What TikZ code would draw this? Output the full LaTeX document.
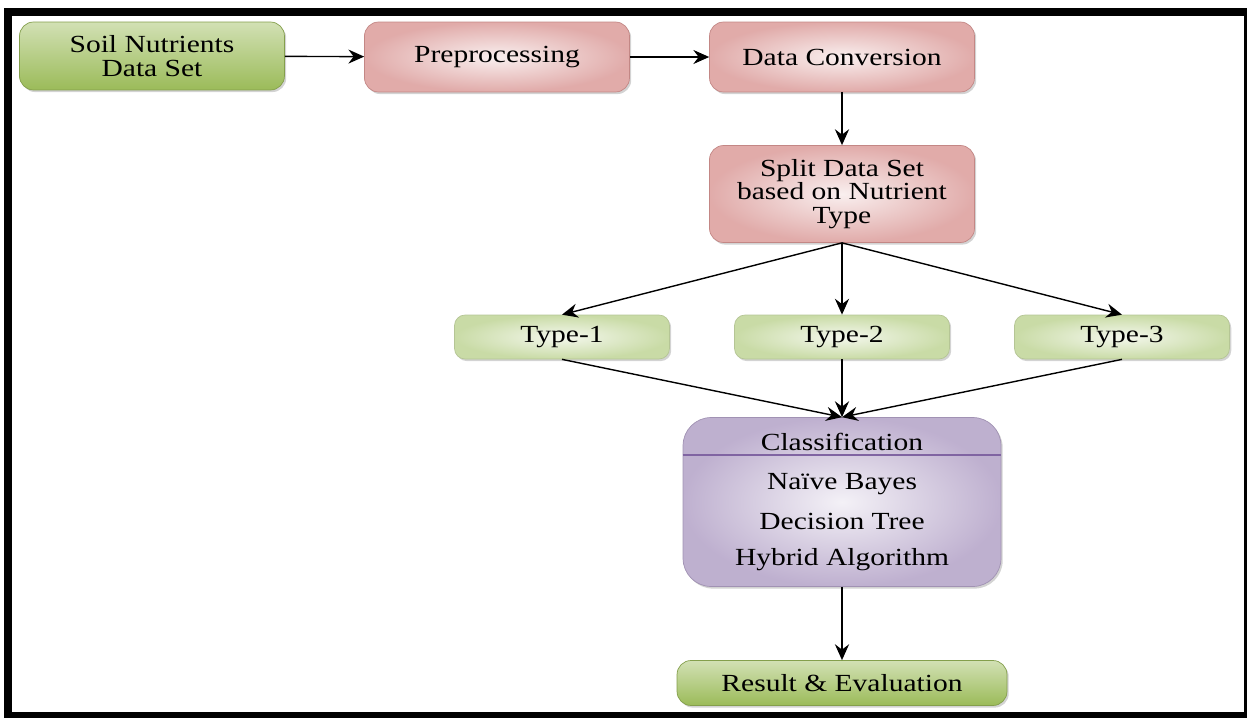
\documentclass[tikz,border=0pt]{standalone}
\usepackage{fontspec}
\setmainfont[FakeStretch=1.2]{Liberation Serif}
\usetikzlibrary{arrows.meta,shadows}

\definecolor{soilgreen}{HTML}{9BBB59}
\definecolor{stagepink}{HTML}{D99694}
\definecolor{typegreen}{HTML}{C9DBA6}
\definecolor{classpurple}{HTML}{B3A2C7}
\definecolor{classline}{HTML}{8064A2}

\tikzset{
  box/.style={rounded corners=8pt, align=center, inner sep=0pt,
    font=\fontsize{14}{13.5}\selectfont,
    drop shadow={shadow xshift=1pt, shadow yshift=-1.2pt, opacity=0.35}},
  greenbox/.style={box, draw=soilgreen!85!black, top color=soilgreen!45!white,
    bottom color=soilgreen, minimum width=5.3cm, minimum height=1.36cm},
  pinkbox/.style={box, draw=stagepink!90!black, inner color=stagepink!15!white,
    outer color=stagepink!80, minimum width=5.3cm, minimum height=1.4cm},
  typebox/.style={box, rounded corners=6pt, draw=typegreen!90!black,
    inner color=typegreen!20!white, outer color=typegreen,
    minimum width=4.3cm, minimum height=0.88cm},
  classbox/.style={box, rounded corners=16pt, draw=classpurple!90!black,
    inner color=classpurple!15!white, outer color=classpurple!85,
    minimum width=6.36cm, minimum height=3.38cm},
  item/.style={font=\fontsize{14}{13.5}\selectfont, inner sep=1pt},
  flow/.style={-{Stealth[length=9pt,width=8pt,inset=3pt]}, line width=0.8pt},
  flowthick/.style={flow, line width=1.3pt}
}

\begin{document}
\begin{tikzpicture}[x=0.02cm, y=-0.02cm]
	\useasboundingbox (0,0) rectangle (1247,717);
	\draw[line width=4.5pt] (8,12) rectangle (1248,716);

	% top row
	\node[greenbox] (soil) at (152,56) {Soil Nutrients\\Data Set};
	\node[pinkbox] (pre) at (497,57) {Preprocessing};
	\node[pinkbox] (conv) at (842,57) {Data Conversion};
	\node[pinkbox, minimum height=1.94cm] (split) at (842,194) {Split Data Set\\based on Nutrient\\Type};

	% nutrient types
	\node[typebox] (t1) at (562,337) {Type-1};
	\node[typebox] (t2) at (842,337) {Type-2};
	\node[typebox] (t3) at (1122,337) {Type-3};

	% classification block
	\node[classbox] (cls) at (842,502) {};
	\draw[classline, line width=1.5pt] (cls.west |- 0,455) -- (cls.east |- 0,455);
	\node[item] (clstitle) at (842,442) {Classification};
	\node[item] (nb) at (842,484) {Naïve Bayes};
	\node[item] (dt) at (842,521) {Decision Tree};
	\node[item] (hy) at (842,560) {Hybrid Algorithm};

	\node[greenbox, minimum width=6.6cm, minimum height=0.9cm] (res) at (842,683) {Result \& Evaluation};

	% connectors
	\draw[flow] (soil) -- (pre);
	\draw[flow] (pre) -- (conv);
	\draw[flowthick] (conv) -- (split);
	\draw[flow] (split.south) -- (t1.north);
	\draw[flowthick] (split.south) -- (t2.north);
	\draw[flow] (split.south) -- (t3.north);
	\draw[flow] (t1.south) -- (cls.north);
	\draw[flowthick] (t2.south) -- (cls.north);
	\draw[flow] (t3.south) -- (cls.north);
	\draw[flowthick] (cls) -- (res);
\end{tikzpicture}
\end{document}
